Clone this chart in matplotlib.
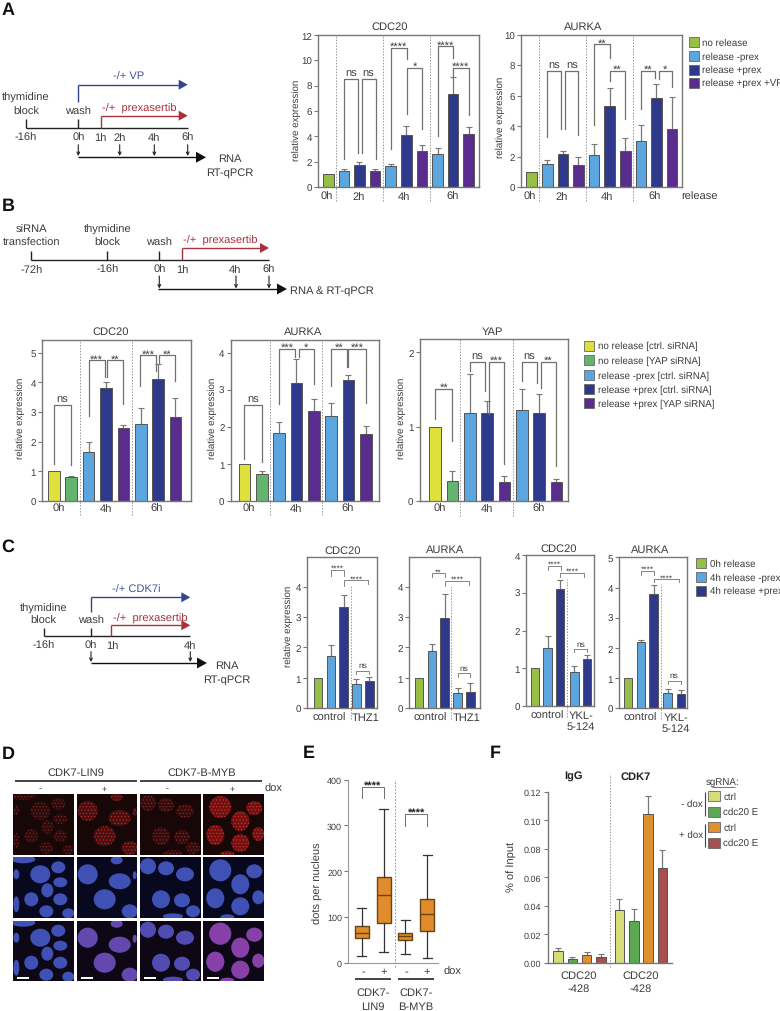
import numpy as np
import matplotlib

matplotlib.use("Agg")
import matplotlib.pyplot as plt
from matplotlib.patches import Ellipse, Rectangle

plt.rcParams["font.family"] = ["Liberation Sans", "DejaVu Sans"]
plt.rcParams["hatch.linewidth"] = 0.4
plt.rcParams["text.hinting"] = "no_hinting"

W, H = 780, 1012
TEXT = "#3c3c3c"
AXIS = "#777777"
LINE = "#707070"
RED = "#a8323c"
BLUE = "#34448f"

LIME = "#97bf45"
SKY = "#5ba6de"
NAVY = "#2f398c"
PURPLE = "#5a2c8e"
YELLOW = "#dfe03c"
GREEN = "#63b46c"

# panel A
a_cdc20 = [1.0, 1.3, 1.7, 1.3, 1.65, 4.1, 2.85, 2.6, 7.35, 4.15]
a_cdc20_err = [1.0, 1.4, 2.0, 1.4, 1.8, 4.85, 3.3, 3.05, 8.65, 4.7]
a_cdc20_br = [
    (1, 1.88, 8.55, 2.2, 2.7, "ns"), (2.14, 3.03, 8.55, 2.7, 2.2, "ns"),
    (4.02, 5.02, 11.0, 3.0, 10.1, "****"), (5.02, 6.03, 9.4, 5.75, 4.6, "*"),
    (7, 8, 11.1, 4.0, 10.2, "****"), (8, 9, 9.4, 8.7, 5.7, "****"),
]
a_aurka = [1.0, 1.5, 2.15, 1.45, 2.1, 5.35, 2.35, 3.0, 5.85, 3.8]
a_aurka_err = [1.0, 1.8, 2.4, 1.95, 2.8, 6.5, 3.25, 4.1, 6.8, 5.95]
a_aurka_br = [
    (1, 1.86, 7.65, 3.3, 3.8, "ns"), (2.14, 3, 7.65, 3.8, 3.4, "ns"),
    (4, 5, 9.4, 4.1, 8.5, "**"), (5, 6, 7.65, 7.0, 4.45, "**"),
    (7, 7.9, 7.65, 5.1, 7.2, "**"), (8.15, 9, 7.65, 7.1, 6.55, "*"),
]
a_colors = [LIME, SKY, NAVY, PURPLE, SKY, NAVY, PURPLE, SKY, NAVY, PURPLE]
a_legend = ["no release", "release -prex", "release +prex", "release +prex +VP"]
a_legend_colors = [LIME, SKY, NAVY, PURPLE]

# panel B
b_cdc20 = [1.0, 0.8, 1.65, 3.8, 2.47, 2.6, 4.1, 2.82]
b_cdc20_err = [1.0, 0.86, 1.98, 4.0, 2.55, 3.13, 4.62, 3.47]
b_cdc20_br = [
    (0, 1, 3.24, 1.25, 1.2, "ns"), (2, 2.94, 4.75, 2.88, 4.17, "***"),
    (3.08, 4, 4.75, 4.17, 3.27, "**"), (4.96, 5.9, 4.92, 3.89, 4.4, "***"),
    (6.04, 7, 4.92, 4.67, 4.05, "**"),
]
b_aurka = [1.0, 0.72, 1.83, 3.18, 2.43, 2.3, 3.27, 1.8]
b_aurka_err = [1.0, 0.82, 2.14, 3.84, 2.74, 2.63, 3.4, 2.01]
b_aurka_br = [
    (0, 1, 2.59, 1.13, 1.04, "ns"), (2, 2.92, 4.1, 2.62, 3.87, "***"),
    (3.12, 4, 4.1, 3.87, 3.15, "*"), (5, 5.9, 4.1, 3.11, 3.6, "**"),
    (6, 7, 4.1, 3.6, 2.64, "***"),
]
b_yap = [1.0, 0.27, 1.19, 1.19, 0.26, 1.22, 1.18, 0.26]
b_yap_err = [1.0, 0.4, 1.71, 1.35, 0.33, 1.5, 1.44, 0.29]
b_yap_br = [
    (0, 1, 1.51, 1.10, 0.81, "**"), (2, 2.9, 1.87, 1.75, 1.48, "ns"),
    (3.1, 4, 1.87, 1.17, 0.5, "***"), (5, 5.9, 1.87, 1.62, 1.59, "ns"),
    (6.1, 7, 1.87, 1.52, 0.475, "**"),
]
b_colors = [YELLOW, GREEN, SKY, NAVY, PURPLE, SKY, NAVY, PURPLE]
b_legend = ["no release [ctrl. siRNA]", "no release [YAP siRNA]", "release -prex [ctrl. siRNA]",
            "release +prex [ctrl. siRNA]", "release +prex [YAP siRNA]"]
b_legend_colors = [YELLOW, GREEN, SKY, NAVY, PURPLE]

# panel C
c_thz_cdc20 = [1.0, 1.72, 3.33, 0.8, 0.9]
c_thz_cdc20_err = [1.0, 2.08, 3.72, 0.97, 1.03]
c_thz_cdc20_br = [(1, 2, 4.56, 4.36, 4.36, "****"), (2, 3.92, 4.22, 4.03, 4.09, "****"),
                  (3, 4, 1.24, 1.13, 1.13, "ns")]
c_thz_aurka = [0.98, 1.87, 2.97, 0.5, 0.55]
c_thz_aurka_err = [0.98, 2.13, 3.76, 0.68, 0.82]
c_thz_aurka_br = [(1, 2, 4.44, 4.31, 4.31, "**"), (2, 3.92, 4.2, 4.03, 4.07, "****"),
                  (3, 3.97, 1.16, 1.04, 1.04, "ns")]
c_ykl_cdc20 = [1.0, 1.54, 3.09, 0.9, 1.24]
c_ykl_cdc20_err = [1.0, 1.85, 3.34, 1.05, 1.35]
c_ykl_cdc20_br = [(1, 2.03, 3.72, 3.61, 3.61, "****"), (1.97, 3.9, 3.53, 3.43, 3.43, "****"),
                  (3.13, 4.13, 1.51, 1.42, 1.42, "ns")]
c_ykl_aurka = [1.0, 2.18, 3.78, 0.5, 0.47]
c_ykl_aurka_err = [1.0, 2.27, 4.07, 0.65, 0.62]
c_ykl_aurka_br = [(1, 2.03, 4.56, 4.43, 4.43, "****"), (2.03, 3.97, 4.28, 4.17, 4.17, "****"),
                  (3.1, 4.13, 0.92, 0.79, 0.79, "ns")]
c_colors = [LIME, SKY, NAVY, SKY, NAVY]
c_legend = ["0h release", "4h release -prex", "4h release +prex"]
c_legend_colors = [LIME, SKY, NAVY]

# panel E
e_low = [14, 24, 18, 10]
e_q1 = [53, 86, 49, 70]
e_med = [65, 149, 58, 107]
e_q3 = [80, 187, 66, 139]
e_high = [119, 336, 94, 235]

# panel F
f_values = [0.0082, 0.0025, 0.0052, 0.0038, 0.037, 0.0295, 0.1045, 0.0665]
f_err = [0.0105, 0.0042, 0.0072, 0.0062, 0.0445, 0.0375, 0.1175, 0.0795]
f_colors = ["#d6dc78", "#5aa850", "#e0902e", "#a85050"] * 2
f_legend = ["ctrl", "cdc20 E", "ctrl", "cdc20 E"]

# nuclei in panel D, per column: centre x, centre y, half width, half height (tile pixels)
cells = [
    [(10, 2, 12, 4), (45, 10, 7, 6), (27, 17, 10, 9), (47, 25, 7, 5), (34, 33, 6, 7), (18, 42, 7, 7),
     (47, 42, 7, 6), (33, 54, 7, 6), (3, 47, 3, 8), (3, 17, 3, 5), (55, 56, 6, 5)],
    [(11, 17, 10, 10), (40, 3, 6, 4), (43, 24, 11, 8), (28, 42, 11, 10), (53, 54, 8, 7), (58, 18, 2, 4)],
    [(8, 9, 8, 8), (26, 11, 8, 7), (45, 17, 9, 7), (21, 42, 9, 9), (42, 43, 8, 7), (53, 54, 7, 6), (33, 59, 10, 3)],
    [(17, 13, 11, 11), (51, 14, 8, 7), (37, 27, 9, 10), (12, 41, 9, 10), (37, 49, 9, 9), (55, 40, 6, 7), (24, 60, 7, 3)],
]
red_fill = ["#2c0c0c", "#4a0f0f", "#320d0d", "#6e1212"]
red_dots = ["#8c2420", "#d02a26", "#a02a24", "#f0302a"]
merge_tint = [0.0, 0.25, 0.12, 0.5]


def add_axes(fig, left, right, top, bottom):
    return fig.add_axes([left / W, 1 - bottom / H, (right - left) / W, (bottom - top) / H])


def draw_brackets(ax, brackets, star_size=8, ns_size=8, lw=0.9):
    for x1, x2, top, left_end, right_end, label in brackets:
        ax.plot([x1, x1, x2, x2], [left_end, top, top, right_end], color=LINE, lw=lw, clip_on=False, zorder=4)
        size = ns_size if label == "ns" else star_size
        offset = 4 if label == "ns" else 1.2
        ax.annotate(label, ((x1 + x2) / 2, top), xytext=(0, offset), textcoords="offset points",
                    ha="center", va="center", fontsize=size, color=TEXT)


def bar_chart(fig, box, values, tops, colors, xlim, ylim, yticks, seps, brackets,
              x_pos=None, width=0.68, sep_span=(-0.09, 1), tick_size=7, star_size=8, ns_size=8, br_lw=0.9):
    ax = add_axes(fig, *box)
    x = np.arange(len(values)) if x_pos is None else np.array(x_pos)
    values = np.array(values)
    tops = np.array(tops)
    ax.bar(x, values, width=width, color=colors, edgecolor="#555555", linewidth=0.7, zorder=2)
    has_err = tops > values
    ax.errorbar(x[has_err], values[has_err], yerr=[np.zeros(has_err.sum()), tops[has_err] - values[has_err]],
                fmt="none", ecolor="#777777", elinewidth=0.9, capsize=2.4, capthick=0.8, zorder=1)
    for s in seps:
        ax.plot([s, s], sep_span, transform=ax.get_xaxis_transform(), color="#999999", lw=0.7,
                ls=(0, (1.5, 1.5)), clip_on=False, zorder=1)
    draw_brackets(ax, brackets, star_size, ns_size, br_lw)
    ax.set_xlim(*xlim)
    ax.set_ylim(*ylim)
    ax.set_xticks([])
    ax.set_yticks(yticks)
    ax.tick_params(axis="y", labelsize=tick_size, labelcolor=TEXT, color=AXIS, length=3, width=0.8, pad=1.5)
    for spine in ax.spines.values():
        spine.set_color(AXIS)
        spine.set_linewidth(1.0)
    return ax


fig = plt.figure(figsize=(W / 100, H / 100), dpi=100)

# charts, panel A
bar_chart(fig, (318, 479, 36, 188), a_cdc20, a_cdc20_err, a_colors, (-0.66, 9.66), (0, 12), range(0, 13, 2),
          [0.5, 3.5, 6.5], a_cdc20_br)
bar_chart(fig, (521, 682, 36, 188), a_aurka, a_aurka_err, a_colors, (-0.68, 9.64), (0, 10), range(0, 11, 2),
          [0.5, 3.5, 6.5], a_aurka_br)

# charts, panel B
bar_chart(fig, (42.3, 190.7, 341, 502), b_cdc20, b_cdc20_err, b_colors, (-0.67, 7.88), (0, 5.43), range(6),
          [1.52, 4.48], b_cdc20_br, width=0.67)
bar_chart(fig, (230.7, 379.5, 341, 502), b_aurka, b_aurka_err, b_colors, (-0.79, 7.79), (0, 4.34), range(5),
          [1.5, 4.46], b_aurka_br, width=0.67)
bar_chart(fig, (419.7, 568, 340.3, 502), b_yap, b_yap_err, b_colors, (-0.885, 7.67), (0, 2.175), range(3),
          [1.46, 4.48], b_yap_br, width=0.67)

# charts, panel C
bar_chart(fig, (307.3, 377.3, 558, 709.3), c_thz_cdc20, c_thz_cdc20_err, c_colors, (-0.83, 4.62), (0, 4.975),
          range(5), [2.55], c_thz_cdc20_br, width=0.65, sep_span=(-0.07, 0.81), star_size=6, ns_size=6, br_lw=0.6)
bar_chart(fig, (409.3, 480, 558, 709.3), c_thz_aurka, c_thz_aurka_err, c_colors, (-0.75, 4.75), (0, 4.975),
          range(5), [2.52], c_thz_aurka_br, width=0.65, sep_span=(-0.07, 0.81), star_size=6, ns_size=6, br_lw=0.6)
bar_chart(fig, (526, 594.3, 556, 707), c_ykl_cdc20, c_ykl_cdc20_err, c_colors, (-0.71, 4.7), (0, 4),
          range(5), [2.55], c_ykl_cdc20_br, x_pos=[0, 1, 2, 3.13, 4.1], width=0.65,
          sep_span=(-0.07, 0.84), star_size=6, ns_size=6, br_lw=0.6)
bar_chart(fig, (619.3, 686.7, 558.3, 709.3), c_ykl_aurka, c_ykl_aurka_err, c_colors, (-0.68, 4.6), (0, 5),
          range(6), [2.55], c_ykl_aurka_br, x_pos=[0, 1, 2, 3.1, 4.13], width=0.65,
          sep_span=(-0.07, 0.82), star_size=6, ns_size=6, br_lw=0.6)

# chart, panel E
ax_e = add_axes(fig, 348.3, 438.3, 780.7, 963.7)
e_stats = [dict(whislo=lo, q1=a, med=m, q3=b, whishi=hi, fliers=[])
           for lo, a, m, b, hi in zip(e_low, e_q1, e_med, e_q3, e_high)]
ax_e.bxp(e_stats, positions=[0, 1, 2, 3], widths=0.64, patch_artist=True, showfliers=False, capwidths=0.4,
         boxprops=dict(facecolor="#e08b2c", edgecolor="#6a4314", linewidth=1.0),
         medianprops=dict(color="#6a4314", linewidth=1.0),
         whiskerprops=dict(color="#333333", linewidth=0.9),
         capprops=dict(color="#333333", linewidth=0.9))
ax_e.plot([1.5, 1.5], [-0.025, 1], transform=ax_e.get_xaxis_transform(), color="#999999", lw=0.8,
          ls=(0, (1.5, 1.5)), clip_on=False)
for x1, x2, top, drop in [(0, 1, 385, 360), (2, 3, 325, 299)]:
    ax_e.plot([x1, x1, x2, x2], [drop, top, top, drop], color=LINE, lw=0.7)
    ax_e.annotate("****", ((x1 + x2) / 2, top), xytext=(0, 1), textcoords="offset points",
                  ha="center", va="center", fontsize=8, fontweight="bold", color="#222222")
ax_e.set_xlim(-0.61, 3.5)
ax_e.set_ylim(0, 400)
ax_e.set_xticks([])
ax_e.set_yticks(range(0, 401, 100))
ax_e.tick_params(axis="y", labelsize=6.5, labelcolor=TEXT, color=AXIS, length=3, width=0.8, pad=1.5)
ax_e.spines[["top", "right"]].set_visible(False)
ax_e.spines[["left", "bottom"]].set_color("#999999")

# chart, panel F
ax_f = bar_chart(fig, (547.7, 671.7, 793, 963.7), f_values, f_err, f_colors, (-0.72, 7.95), (0, 0.12), [],
                 [3.63], [], x_pos=[0, 1, 2, 3, 4.3, 5.3, 6.3, 7.3], width=0.67, sep_span=(-0.025, 1.105))
ax_f.set_yticks(np.arange(0, 0.121, 0.02))
ax_f.set_yticklabels([f"{v:.2f}" for v in np.arange(0, 0.121, 0.02)])
ax_f.tick_params(axis="y", labelsize=6.5)
ax_f.spines[["top", "right"]].set_visible(False)

# everything else sits on one page axes in pixel coordinates
page = fig.add_axes([0, 0, 1, 1], zorder=10)
page.set_xlim(0, W)
page.set_ylim(H, 0)
page.axis("off")
page.patch.set_visible(False)


def label(x, y, s, size=8, color=TEXT, ha="center", weight="normal", rotation=0):
    page.text(x, y, s, fontsize=size, color=color, ha=ha, va="center", fontweight=weight, rotation=rotation)


def seg(xs, ys, color="#222222", lw=1.0):
    page.plot(xs, ys, color=color, lw=lw, solid_capstyle="butt", solid_joinstyle="miter")


def arrow_right(x0, y, tip, color, head=9, half=5):
    seg([x0, tip - head], [y, y], color, 1.0)
    page.fill([tip - head, tip, tip - head], [y - half, y, y + half], color=color, lw=0)


def arrow_down(x, y0, y1):
    page.annotate("", xy=(x, y1), xytext=(x, y0),
                  arrowprops=dict(arrowstyle="->", lw=0.8, color="#222222", mutation_scale=5, shrinkA=0, shrinkB=0))


def legend_rows(x, ys, labels, colors, size=7, w=10, h=10, text_gap=3.5):
    for y, s, c in zip(ys, labels, colors):
        page.add_patch(Rectangle((x, y - h / 2), w, h, facecolor=c, edgecolor="#666666", lw=0.6))
        label(x + w + text_gap, y, s, size=size, ha="left")


for s, x, y in [("A", 8, 10), ("B", 8, 206.5), ("C", 8, 547), ("D", 8, 754), ("E", 309, 753), ("F", 495, 753)]:
    label(x, y, s, size=13, color="#111111", weight="bold")

# panel A schedule
seg([26, 187.7], [129, 129])
seg([26, 26], [120, 129])
seg([78.3, 78.3], [85.7, 103], BLUE)
seg([78.3, 78.3], [120, 129])
seg([100.7, 100.7], [116.7, 129], RED)
arrow_right(78.3, 85.7, 187.7, BLUE)
arrow_right(100.7, 116.7, 187.7, RED)
label(129, 77, "-/+ VP", color="#4a5596")
label(26, 98, "thymidine")
label(26, 111.7, "block")
label(78.3, 111.7, "wash")
label(101.7, 108.7, "-/+  prexasertib", color=RED, ha="left")
for s, x in [("-16h", 26), ("0h", 78.3), ("1h", 100.7), ("2h", 119.7), ("4h", 154.3), ("6h", 187.7)]:
    label(x, 138, s)
for x in [78.3, 119.7, 154.3, 187.7]:
    arrow_down(x, 145.7, 157)
arrow_right(78, 158.3, 206, "#111111", head=10, half=5.5)
label(230, 159, "RNA")
label(230, 173, "RT-qPCR")

label(390, 27, "CDC20")
label(583, 27, "AURKA")
label(296, 120, "relative expression", size=7, rotation=90)
label(500, 117, "relative expression", size=7, rotation=90)
for s, x in [("0h", 326.7), ("2h", 358.3), ("4h", 404.3), ("6h", 452.3),
             ("0h", 530), ("2h", 561.7), ("4h", 607), ("6h", 655)]:
    label(x, 197, s)
label(700, 197, "release")
legend_rows(689, [43.3, 57, 70.7, 83.7], a_legend, a_legend_colors)

# panel B schedule
seg([31.3, 269], [261, 261])
for x in [31.3, 107.3, 159.3]:
    seg([x, x], [251.7, 261])
seg([181.7, 181.7], [249, 261], RED)
arrow_right(181.7, 249, 269, RED)
label(31.3, 230, "siRNA")
label(31.3, 243, "transfection")
label(107.3, 230, "thymidine")
label(107.3, 243, "block")
label(159.3, 243, "wash")
label(183, 241, "-/+  prexasertib", color=RED, ha="left")
for s, x in [("-72h", 31.3), ("-16h", 107.3), ("0h", 159.3), ("1h", 182), ("4h", 235), ("6h", 269)]:
    label(x, 270, s)
for x in [159.3, 236, 269]:
    arrow_down(x, 277, 289.5)
arrow_right(158, 290, 287, "#111111", head=10, half=5.5)
label(290, 291, "RNA & RT-qPCR", ha="left")

label(110.7, 332, "CDC20")
label(303, 332, "AURKA")
label(492, 331.7, "YAP")
for x, y in [(20.7, 418), (212.7, 418), (401.7, 418)]:
    label(x, y, "relative expression", size=7, rotation=90)
for s, x in [("0h", 59), ("4h", 105.7), ("6h", 157), ("0h", 249), ("4h", 296), ("6h", 347.7),
             ("0h", 440), ("4h", 486.7), ("6h", 539)]:
    label(x, 509, s)
legend_rows(584.3, [346.7, 361.3, 376, 390, 404.3], b_legend, b_legend_colors)

# panel C schedule
seg([43.7, 190.3], [637.3, 637.3])
seg([43.7, 43.7], [629.3, 637.3])
seg([91, 91], [629.3, 637.3])
seg([91, 91], [598.3, 613.3], BLUE)
seg([111.3, 111.3], [626.3, 637.3], RED)
arrow_right(91, 598.3, 190.3, BLUE)
arrow_right(111.3, 626.3, 190.3, RED)
label(136.7, 590, "-/+ CDK7i", color="#4a5596")
label(43.7, 609, "thymidine")
label(43.7, 621, "block")
label(91, 621, "wash")
label(113, 618.7, "-/+  prexasertib", color=RED, ha="left")
for s, x in [("-16h", 43.7), ("0h", 91), ("1h", 112), ("4h", 190.3)]:
    label(x, 645.7, s)
for x in [91, 190.3]:
    arrow_down(x, 652.7, 663)
arrow_right(91, 664, 207, "#111111", head=10, half=5.5)
label(226.7, 666, "RNA")
label(226.7, 680, "RT-qPCR")

for s, x, y in [("CDC20", 343, 551), ("AURKA", 445, 550), ("CDC20", 559, 549), ("AURKA", 650, 550)]:
    label(x, y, s)
label(288, 626, "relative expression", size=7, rotation=90)
for s, x, y in [("control", 329, 717.7), ("THZ1", 365.7, 717.7), ("control", 430, 717.7), ("THZ1", 466.7, 717.7),
                ("control", 547, 715.7), ("YKL-", 580.7, 715.7), ("5-124", 580.7, 726.7),
                ("control", 640, 717.7), ("YKL-", 675.7, 717.7), ("5-124", 675.7, 728.7)]:
    label(x, y, s)
legend_rows(696, [564.3, 578, 591.7], c_legend, c_legend_colors)

# panel D micrographs, drawn as ellipses on dark tiles
tile_x = [13.3, 76.7, 140, 203.3]
tile_y = [795, 858.3, 921.7]
tile = 60.6
for col, x0 in enumerate(tile_x):
    for row, y0 in enumerate(tile_y):
        bg = ["#170707", "#08081f", "#0e0716"][row]
        back = Rectangle((x0, y0), tile, tile, facecolor=bg, edgecolor="none", zorder=1)
        page.add_patch(back)
        for cx, cy, rx, ry in cells[col]:
            shape = dict(xy=(x0 + cx, y0 + cy), width=2 * rx, height=2 * ry, zorder=2)
            if row == 0:
                e = Ellipse(facecolor=red_fill[col], edgecolor=red_dots[col], hatch=".....", lw=0, **shape)
            else:
                e = Ellipse(facecolor="#3f51b5", edgecolor="none", **shape)
            page.add_patch(e)
            e.set_clip_path(back)
            if row == 2 and merge_tint[col] > 0:
                tint = Ellipse(facecolor="#d0309a", edgecolor="none", alpha=merge_tint[col], **shape)
                page.add_patch(tint)
                tint.set_clip_path(back)
    page.add_patch(Rectangle((x0 + 4, 977.8), 12, 1.8, facecolor="white", edgecolor="none", zorder=3))

label(76, 773, "CDK7-LIN9")
label(202, 773, "CDK7-B-MYB")
seg([15, 137], [782.3, 782.3], "#111111", 1.1)
seg([140, 261.7], [782.3, 782.3], "#111111", 1.1)
for s, x in [("-", 40), ("+", 104), ("-", 167), ("+", 231.7)]:
    label(x, 789, s, size=6.5)
label(264.5, 789, "dox", ha="left")

# panel E labels
label(318.3, 882.7, "dots per nucleus", rotation=90)
for s, x in [("-", 363), ("+", 383.7), ("-", 406.5), ("+", 427)]:
    label(x, 971.7, s)
label(444, 971.7, "dox", ha="left")
seg([355.3, 390.7], [980, 980], "#111111", 1.1)
seg([398.3, 434], [980, 980], "#111111", 1.1)
for s, x, y in [("CDK7-", 373, 993), ("LIN9", 373, 1006.7), ("CDK7-", 416, 993), ("B-MYB", 416, 1006.7)]:
    label(x, y, s)

# panel F labels
label(511.7, 867, "% of Input", rotation=90)
label(574, 776.7, "IgG", weight="bold", color="#222222")
label(636, 776.7, "CDK7", weight="bold", color="#222222")
for x in [579, 640.7]:
    label(x, 976, "CDC20")
    label(x, 989, "-428")
label(723, 782, "sgRNA:", size=7)
seg([711.5, 734.5], [787.5, 787.5], TEXT, 0.5)
legend_rows(708.3, [797.3, 812.7, 828.3, 843.7], f_legend, f_colors[:4], w=11.5, h=10, text_gap=3.5)
label(703, 804.7, "- dox", size=7, ha="right")
label(703, 835.3, "+ dox", size=7, ha="right")
seg([704.7, 704.7], [792.7, 816.7], "#444444", 0.8)
seg([704.7, 704.7], [825, 847.7], "#444444", 0.8)

fig.savefig("out.png", dpi=100)
